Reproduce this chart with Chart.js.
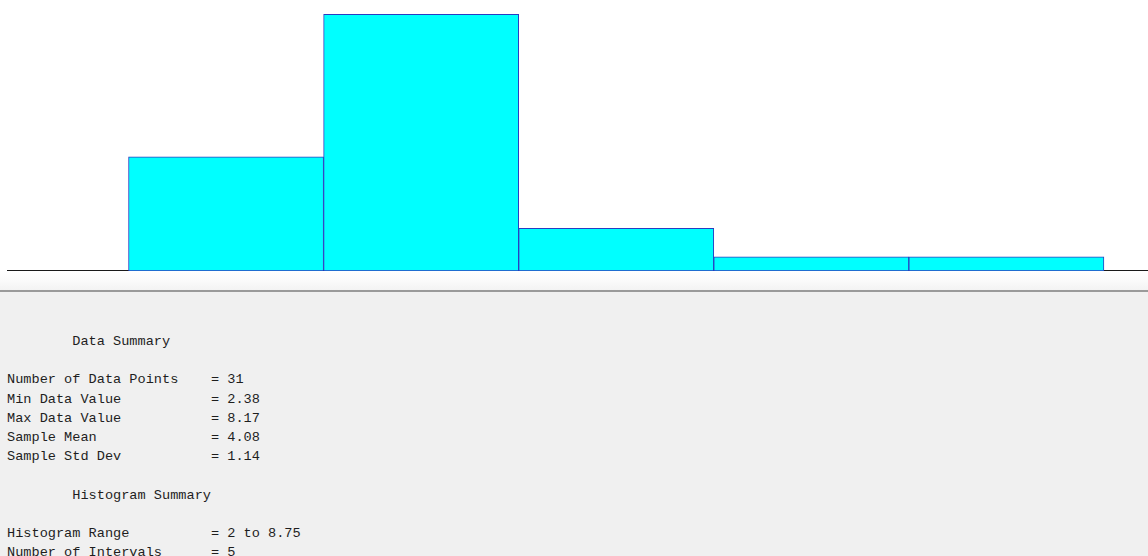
<!DOCTYPE html>
<html>
<head>
<meta charset="utf-8">
<script src="https://cdn.jsdelivr.net/npm/chart.js@4.4.0/dist/chart.umd.min.js"></script>
<style>
  html, body { margin: 0; padding: 0; background: #fff; }
  body { width: 1148px; height: 556px; overflow: hidden; position: relative; }
  #plot { position: absolute; left: 0; top: 0; width: 1148px; height: 290px;
    background: linear-gradient(#ffffff 0, #ffffff 272px, #fbfbfb 280px, #f3f3f3 290px); }
  #panel { position: absolute; left: 0; top: 290px; width: 1148px; height: 266px;
    background: #f0f0f0; border-top: 2px solid #9a9a9a; box-sizing: border-box; }
  #summary { position: absolute; left: 7px; top: 40px; margin: 0;
    font-family: "Courier New", "Liberation Mono", monospace; font-size: 13.6px;
    line-height: 19.2px; color: #1e1e1e; tab-size: 8; }
</style>
</head>
<body>
<div id="plot"><canvas id="histChart"></canvas></div>
<div id="panel">
<pre id="summary"></pre>
</div>
<script>
// histogram bins: 2 to 8.75 in 5 intervals
const binEdges = [2, 3.35, 4.7, 6.05, 7.4, 8.75];
const binCounts = [8, 18, 3, 1, 1];

const summaryLabels = ['Number of Data Points', 'Min Data Value', 'Max Data Value', 'Sample Mean', 'Sample Std Dev'];
const summaryValues = ['31', '2.38', '8.17', '4.08', '1.14'];
const histLabels = ['Histogram Range', 'Number of Intervals'];
const histValues = ['2 to 8.75', '5'];

function pad(s, n) {
  while (s.length < n) s += ' ';
  return s;
}

let lines = ['\tData Summary', ''];
summaryLabels.forEach((l, i) => lines.push(pad(l, 25) + '= ' + summaryValues[i]));
lines.push('', '\tHistogram Summary', '');
histLabels.forEach((l, i) => lines.push(pad(l, 25) + '= ' + histValues[i]));
document.getElementById('summary').textContent = lines.join('\n');

const points = binCounts.map((c, i) => ({ x: (binEdges[i] + binEdges[i + 1]) / 2, y: c }));

// black base line under the bars, at y = 0
const baseLine = {
  id: 'baseLine',
  beforeDatasetsDraw(chart) {
    const c = chart.ctx;
    const y = Math.round(chart.scales.y.getPixelForValue(0)) - 0.5;
    c.save();
    c.strokeStyle = '#1a1a1a';
    c.lineWidth = 1;
    c.beginPath();
    c.moveTo(chart.chartArea.left, y);
    c.lineTo(chart.chartArea.right, y);
    c.stroke();
    c.restore();
  }
};

const ctx = document.getElementById('histChart').getContext('2d');
new Chart(ctx, {
  type: 'bar',
  data: {
    datasets: [{
      data: points,
      backgroundColor: '#00ffff',
      borderColor: '#2a3cc0',
      borderWidth: 1,
      borderSkipped: false,
      barPercentage: 1,
      categoryPercentage: 1
    }]
  },
  options: {
    responsive: true,
    maintainAspectRatio: false,
    animation: false,
    layout: { padding: { left: 7, right: 0, top: 0, bottom: 19 } },
    plugins: { legend: { display: false }, tooltip: { enabled: false } },
    scales: {
      x: {
        type: 'linear',
        display: false,
        offset: false,
        min: 1.159,
        max: 9.055,
        afterBuildTicks: (scale) => { scale.ticks = binEdges.map(v => ({ value: v })); }
      },
      y: {
        display: false,
        min: 0,
        max: 19
      }
    }
  },
  plugins: [baseLine]
});
</script>
</body>
</html>
